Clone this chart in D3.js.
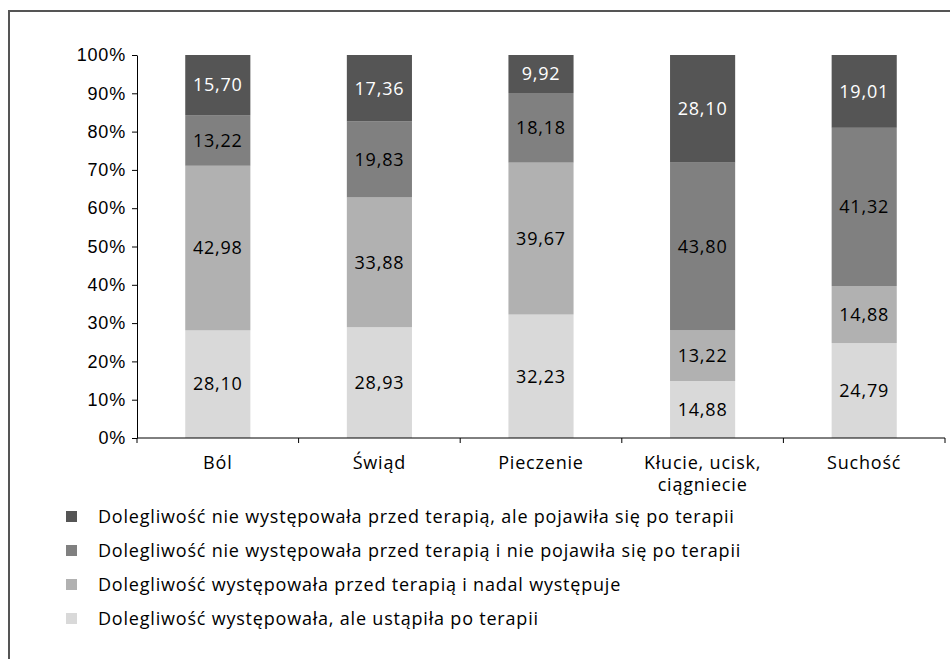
<!DOCTYPE html>
<html>
<head>
<meta charset="utf-8">
<script src="https://cdn.jsdelivr.net/npm/d3@7"></script>
<style>
  html, body { margin: 0; padding: 0; background: #fff; }
  svg { display: block; font-family: "Open Sans", "Noto Sans", sans-serif; letter-spacing: 0.8px; }
</style>
</head>
<body>
<svg id="chart" width="950" height="659"></svg>
<script>
// Symptom categories along the x axis
const categories = ["Ból", "Świąd", "Pieczenie", "Kłucie, ucisk,\nciągniecie", "Suchość"];

// Series, stacked bottom to top
const seriesNames = [
  "Dolegliwość występowała, ale ustąpiła po terapii",
  "Dolegliwość występowała przed terapią i nadal występuje",
  "Dolegliwość nie występowała przed terapią i nie pojawiła się po terapii",
  "Dolegliwość nie występowała przed terapią, ale pojawiła się po terapii"
];
const ustapila       = [28.10, 28.93, 32.23, 14.88, 24.79];
const nadalWystepuje = [42.98, 33.88, 39.67, 13.22, 14.88];
const niePojawila    = [13.22, 19.83, 18.18, 43.80, 41.32];
const pojawila       = [15.70, 17.36,  9.92, 28.10, 19.01];
const seriesValues = [ustapila, nadalWystepuje, niePojawila, pojawila];

const yTicks = [0, 10, 20, 30, 40, 50, 60, 70, 80, 90, 100];

const colors = ["#d9d9d9", "#b1b1b1", "#808080", "#555555"];
const labelColors = ["#000", "#000", "#000", "#fff"];

const svg = d3.select("#chart");
const W = 950, H = 659;

// Frame open to the right and bottom
svg.append("path")
  .attr("d", `M9,${H + 5}V11H${W + 5}`)
  .attr("fill", "none").attr("stroke", "#555").attr("stroke-width", 2);

const x0 = 137, x1 = 945, yTop = 55, yBot = 438;
const x = d3.scaleBand().domain(d3.range(categories.length)).range([x0, x1]).paddingInner(0).paddingOuter(0);
const y = d3.scaleLinear().domain([0, 100]).range([yBot, yTop]);
const barW = x.bandwidth() * 0.403;

// Build stacked table
const table = categories.map((c, i) => {
  const row = { i };
  seriesValues.forEach((s, k) => row["s" + k] = s[i]);
  return row;
});
const stack = d3.stack().keys(seriesValues.map((_, k) => "s" + k))(table);

const fontSize = 18;

stack.forEach((layer, k) => {
  const g = svg.append("g");
  g.selectAll("rect").data(layer).join("rect")
    .attr("x", d => x(d.data.i) + (x.bandwidth() - barW) / 2)
    .attr("width", barW)
    .attr("y", d => y(d[1]))
    .attr("height", d => y(d[0]) - y(d[1]))
    .attr("fill", colors[k]);
  g.selectAll("text").data(layer).join("text")
    .attr("x", d => x(d.data.i) + x.bandwidth() / 2)
    .attr("y", d => y((d[0] + d[1]) / 2))
    .attr("dy", "0.35em")
    .attr("text-anchor", "middle")
    .attr("font-size", fontSize)
    .attr("fill", labelColors[k])
    .text(d => (d[1] - d[0]).toFixed(2).replace(".", ","));
});

// Y axis
const yAxis = svg.append("g")
  .attr("transform", `translate(${x0},0)`)
  .call(d3.axisLeft(y).tickValues(yTicks).tickFormat(d => d + "%").tickSize(5).tickPadding(6).tickSizeOuter(0));
yAxis.select(".domain").attr("stroke", "#000");
yAxis.selectAll(".tick line").attr("stroke", "#000");
yAxis.selectAll("text").attr("font-size", fontSize).attr("fill", "#000").attr("font-family", null);

// X axis: ticks at band boundaries
const xAxisG = svg.append("g").attr("transform", `translate(0,${yBot})`);
xAxisG.append("line").attr("x1", x0).attr("x2", x1).attr("stroke", "#000");
const bounds = d3.range(categories.length + 1).map(i => x0 + i * x.step());
xAxisG.selectAll(".bt").data(bounds).join("line")
  .attr("x1", d => d).attr("x2", d => d).attr("y1", 0).attr("y2", 5).attr("stroke", "#000");
const catLabels = xAxisG.selectAll(".cat").data(categories).join("text")
  .attr("x", (d, i) => x(i) + x.bandwidth() / 2)
  .attr("y", 31)
  .attr("text-anchor", "middle")
  .attr("font-size", fontSize)
  .attr("fill", "#000");
catLabels.each(function(d) {
  const t = d3.select(this);
  d.split("\n").forEach((line, j) => {
    t.append("tspan").attr("x", t.attr("x")).attr("dy", j === 0 ? 0 : 22).text(line);
  });
});

// Legend, top entry is the top of the stack
const legendOrder = [3, 2, 1, 0];
const legend = svg.append("g");
legendOrder.forEach((k, r) => {
  const cy = 517 + r * 34;
  legend.append("rect")
    .attr("x", 66).attr("y", cy - 6).attr("width", 11).attr("height", 11)
    .attr("fill", colors[k]);
  legend.append("text")
    .attr("x", 98).attr("y", cy).attr("dy", "0.35em")
    .attr("font-size", fontSize).attr("fill", "#000")
    .text(seriesNames[k]);
});
</script>
</body>
</html>
